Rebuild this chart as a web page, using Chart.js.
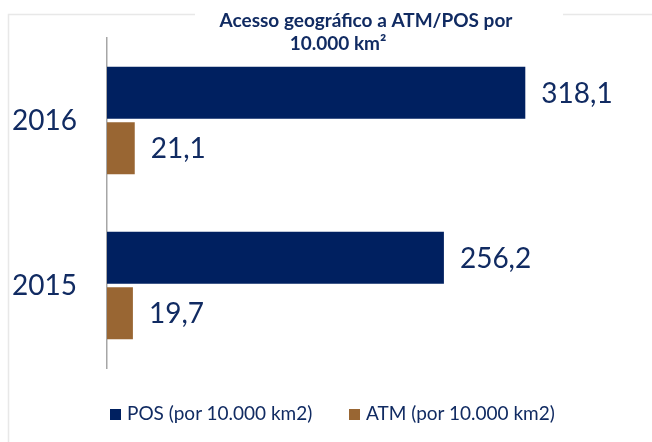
<!DOCTYPE html>
<html lang="pt">
<head>
  <meta charset="UTF-8" />
  <title>Acesso geográfico a ATM/POS</title>
  <script src="https://cdn.jsdelivr.net/npm/chart.js"></script>
  <style>
    body { margin: 0; background: #fff; }
    #wrap { width: 652px; height: 442px; position: relative; }
    #legend {
      position: absolute;
      top: 401px;
      left: 110px;
      font-family: Lato, "Open Sans", sans-serif;
      font-size: 19px;
      color: #112b62;
      white-space: nowrap;
    }
    #legend .item { position: absolute; top: 0; }
    #legend .box {
      display: inline-block;
      width: 11px;
      height: 11px;
      margin-right: 6px;
    }
  </style>
</head>
<body>
  <div id="wrap">
    <canvas id="atmChart" width="652" height="442"></canvas>
    <div id="legend"></div>
  </div>

  <script>
    // data
    const years = ['2016', '2015'];
    const posValues = [318.1, 256.2];
    const atmValues = [21.1, 19.7];
    const seriesNames = ['POS (por 10.000 km2)', 'ATM (por 10.000 km2)'];
    const titleLines = ['Acesso geográfico a ATM/POS por', '10.000 km²'];

    const navy = '#002060';
    const brown = '#996633';
    const textColor = '#112b62';
    const fontFamily = 'Lato, "Open Sans", sans-serif';

    const fmt = v => v.toFixed(1).replace('.', ',');

    // title + faint frame
    const frameAndTitle = {
      id: 'frameAndTitle',
      beforeDraw(chart) {
        const c = chart.ctx;
        c.save();
        c.strokeStyle = '#e8e8e8';
        c.lineWidth = 1.5;
        c.beginPath();
        c.moveTo(8.5, 442);
        c.lineTo(8.5, 14.5);
        c.lineTo(195, 14.5);
        c.moveTo(563, 14.5);
        c.lineTo(652, 14.5);
        c.stroke();
        c.restore();
      },
      afterDraw(chart) {
        const c = chart.ctx;
        c.save();
        c.fillStyle = textColor;
        c.font = 'bold 19px ' + fontFamily;
        c.textAlign = 'center';
        c.textBaseline = 'alphabetic';
        c.fillText(titleLines[0], 366, 27);
        c.fillText(titleLines[1], 338, 50);
        c.restore();
      }
    };

    // value labels right of each bar
    const valueLabels = {
      id: 'valueLabels',
      afterDatasetsDraw(chart) {
        const c = chart.ctx;
        c.save();
        c.fillStyle = textColor;
        c.font = '28px ' + fontFamily;
        c.textAlign = 'left';
        c.textBaseline = 'middle';
        chart.data.datasets.forEach((ds, i) => {
          chart.getDatasetMeta(i).data.forEach((bar, j) => {
            c.fillText(fmt(ds.data[j]), bar.x + 16, bar.y + 1);
          });
        });
        c.restore();
      }
    };

    const chart = new Chart(document.getElementById('atmChart'), {
      type: 'bar',
      data: {
        labels: years,
        datasets: [
          {
            label: seriesNames[0],
            data: posValues,
            backgroundColor: navy,
            categoryPercentage: 0.673,
            barPercentage: 0.94
          },
          {
            label: seriesNames[1],
            data: atmValues,
            backgroundColor: brown,
            categoryPercentage: 0.673,
            barPercentage: 0.94
          }
        ]
      },
      options: {
        indexAxis: 'y',
        responsive: false,
        animation: false,
        layout: { padding: { top: 38, right: 19, bottom: 74, left: 0 } },
        scales: {
          x: {
            display: false,
            min: 0,
            max: 400
          },
          y: {
            grid: { display: false, drawTicks: false },
            border: { display: true, color: '#a6a6a6', width: 1.5 },
            ticks: {
              color: textColor,
              font: { family: fontFamily, size: 28 },
              padding: 30
            },
            afterFit(scale) {
              scale.width = 107;
              // tick padding would otherwise push the plot area down
              scale.paddingTop = 0;
              scale.paddingBottom = 0;
            }
          }
        },
        plugins: {
          title: { display: false },
          tooltip: { enabled: false },
          legend: { display: false }
        }
      },
      plugins: [frameAndTitle, valueLabels]
    });

    // html legend built from the datasets
    const legend = document.getElementById('legend');
    const offsets = [0, 239];
    chart.data.datasets.forEach((ds, i) => {
      const item = document.createElement('span');
      item.className = 'item';
      item.style.left = offsets[i] + 'px';
      item.innerHTML = '<span class="box" style="background:' + ds.backgroundColor + '"></span>' + ds.label;
      legend.appendChild(item);
    });
  </script>
</body>
</html>
